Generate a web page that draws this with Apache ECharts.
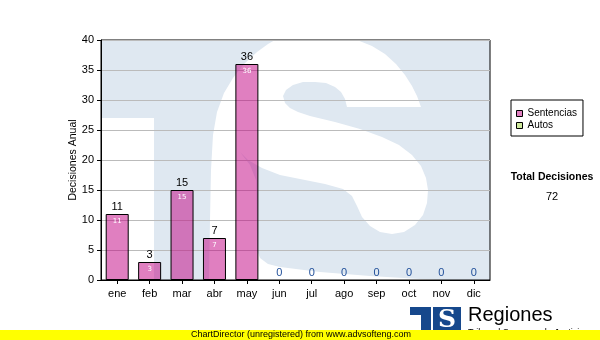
<!DOCTYPE html>
<html>
<head>
<meta charset="utf-8">
<script src="https://cdn.jsdelivr.net/npm/echarts@6/dist/echarts.min.js"></script>
<style>
html,body{margin:0;padding:0;background:#fff;}
#chart{width:600px;height:340px;}
</style>
</head>
<body>
<div id="chart"></div>
<script>
// ---- data ----
const months = ['ene','feb','mar','abr','may','jun','jul','ago','sep','oct','nov','dic'];
const sentencias = [11, 3, 15, 7, 36, 0, 0, 0, 0, 0, 0, 0];
const autos = [0, 0, 0, 0, 0, 0, 0, 0, 0, 0, 0, 0];
const seriesNames = ['Sentencias', 'Autos'];
const yMin = 0, yMax = 40, yStep = 5;
const yAxisTitle = 'Decisiones Anual';
const totalTitle = 'Total Decisiones';
const footerText = 'ChartDirector (unregistered) from www.advsofteng.com';
const logoTitle = 'Regiones';
const logoSub = 'Tribunal Supremo de Justicia';

const total = sentencias.concat(autos).reduce((a, b) => a + b, 0);

// ---- styles ----
const FONT = '"Liberation Sans", Arial, sans-serif';
const WM = '#dfe8f1';
const LOGO = '#16488c';

const chart = echarts.init(document.getElementById('chart'), null, {renderer: 'canvas'});

// decorative watermark (logo) behind the plot
const wmWhite = [
  [209,280],[210,220],[211,170],[213,135],[217,112],[224,93],[233,78],[244,64],[257,52],[268,44],[275,40],
  [357,40],[372,46],[385,54],[396,64],[405,75],[412,86],[417,96],[421,107],
  [347,107],[345,99],[341,92],[335,87],[326,83],[315,82],[303,82],[293,85],[286,90],[283,96],[285,103],[290,108],[298,112],[310,116],
  [335,122],[360,129],[382,137],[399,145],[412,155],[421,166],[426,178],[428,190],[427,203],[423,215],[415,225],[404,232],[392,234],
  [380,232],[370,226],[362,217],[357,206],[352,196],[343,189],[325,184],[300,179],[280,175],[262,168],[248,160],[240,152],
  [250,165],[256,180],[257,250],[260,258],[268,264],[280,267],[320,272],[370,276],[420,279],[450,280]
];

const graphics = [
  {type:'rect', z:-10, silent:true, shape:{x:101, y:40, width:389, height:240}, style:{fill:WM}},
  {type:'rect', z:-9, silent:true, shape:{x:101, y:118, width:53, height:162}, style:{fill:'#fff'}},
  {type:'polygon', z:-9, silent:true, shape:{points:wmWhite}, style:{fill:'#fff'}},
  // total block
  {type:'text', x:552, y:177, style:{text: totalTitle, font:'bold 10.5px ' + FONT, fill:'#000', align:'center', verticalAlign:'middle', textAlign:'center', textVerticalAlign:'middle'}},
  {type:'text', x:552, y:197, style:{text: String(total), font:'11px ' + FONT, fill:'#000', align:'center', verticalAlign:'middle', textAlign:'center', textVerticalAlign:'middle'}},
  // logo
  {type:'rect', silent:true, shape:{x:410, y:307, width:21, height:8}, style:{fill:LOGO}},
  {type:'rect', silent:true, shape:{x:421, y:307, width:10, height:24}, style:{fill:LOGO}},
  {type:'rect', silent:true, shape:{x:433, y:307, width:28, height:24}, style:{fill:LOGO}},
  {type:'text', x:447, y:320, style:{text:'S', font:'bold 25px "DejaVu Serif", serif', fill:'#fff', align:'center', verticalAlign:'middle', textAlign:'center', textVerticalAlign:'middle'}},
  {type:'text', x:468, y:315, style:{text: logoTitle, font:'20px ' + FONT, fill:'#000', align:'left', verticalAlign:'middle', textAlign:'left', textVerticalAlign:'middle'}},
  {type:'text', x:468, y:333, style:{text: logoSub, font:'9px ' + FONT, fill:'#000', align:'left', verticalAlign:'middle', textAlign:'left', textVerticalAlign:'middle'}},
  // footer
  {type:'rect', z:20, silent:true, shape:{x:0, y:330, width:600, height:10}, style:{fill:'#ffff00'}},
  {type:'text', z:21, x:301, y:335, style:{text: footerText, font:'9px ' + FONT, fill:'#000', align:'center', verticalAlign:'middle', textAlign:'center', textVerticalAlign:'middle'}}
];

const option = {
  animation: false,
  backgroundColor: '#fff',
  grid: {left:101, top:40, right:110, bottom:60, show:true, borderColor:'#000', borderWidth:1, backgroundColor:'transparent'},
  legend: {
    data: seriesNames,
    orient: 'vertical',
    left: 511, top: 100,
    padding: [8, 6, 5, 5],
    itemWidth: 6, itemHeight: 6, itemGap: 1,
    icon: 'rect',
    itemStyle: {borderColor:'#000', borderWidth:1},
    textStyle: {fontFamily: FONT, fontSize: 10, color:'#000', lineHeight: 11},
    borderColor: '#000', borderWidth: 1, backgroundColor: '#fff',
    selectedMode: false
  },
  xAxis: {
    type: 'category',
    data: months,
    axisLine: {lineStyle:{color:'#000', width:1}},
    axisTick: {show:true, alignWithLabel:true, length:4, lineStyle:{color:'#000'}},
    axisLabel: {color:'#000', fontFamily: FONT, fontSize: 11, margin: 8},
    splitLine: {show:false}
  },
  yAxis: {
    type: 'value',
    min: yMin, max: yMax, interval: yStep,
    name: yAxisTitle, nameLocation: 'middle', nameGap: 22, nameMoveOverlap: false,
    nameTextStyle: {color:'#000', fontFamily: FONT, fontSize: 10.5},
    axisLine: {show:true, lineStyle:{color:'#000', width:1}},
    axisTick: {show:true, length:4, lineStyle:{color:'#000'}},
    axisLabel: {color:'#000', fontFamily: FONT, fontSize: 11, margin: 7},
    splitLine: {show:true, lineStyle:{color:'#bbbbbb', width:1}}
  },
  series: [
    {
      name: seriesNames[0], type: 'bar', stack: 'dec', barWidth: 23,
      data: sentencias.map(v => v === 0 ? {value: v, itemStyle: {borderWidth: 0}, label: {color:'#1f4e99'}} : v),
      itemStyle: {color:'rgba(193,0,129,0.5)', borderColor:'#000', borderWidth:1},
      label: {show:true, position:'top', distance:2, color:'#000', fontFamily: FONT, fontSize: 11}
    },
    {
      name: seriesNames[1], type: 'bar', stack: 'dec', barWidth: 23,
      data: autos,
      itemStyle: {color:'rgba(160,214,60,0.5)', borderWidth:0},
      label: {show:false}
    },
    {
      name: 'inner', type: 'bar', barWidth: 23, barGap: '-100%', silent: true,
      data: sentencias,
      itemStyle: {color:'rgba(0,0,0,0)', borderWidth:0},
      label: {show:true, position:'insideTop', distance:4, color:'#fff', fontFamily:'"DejaVu Sans", sans-serif', fontSize: 7,
              formatter: p => p.value > 0 ? String(p.value) : ''}
    }
  ],
  graphic: graphics
};
chart.setOption(option);
</script>
</body>
</html>
